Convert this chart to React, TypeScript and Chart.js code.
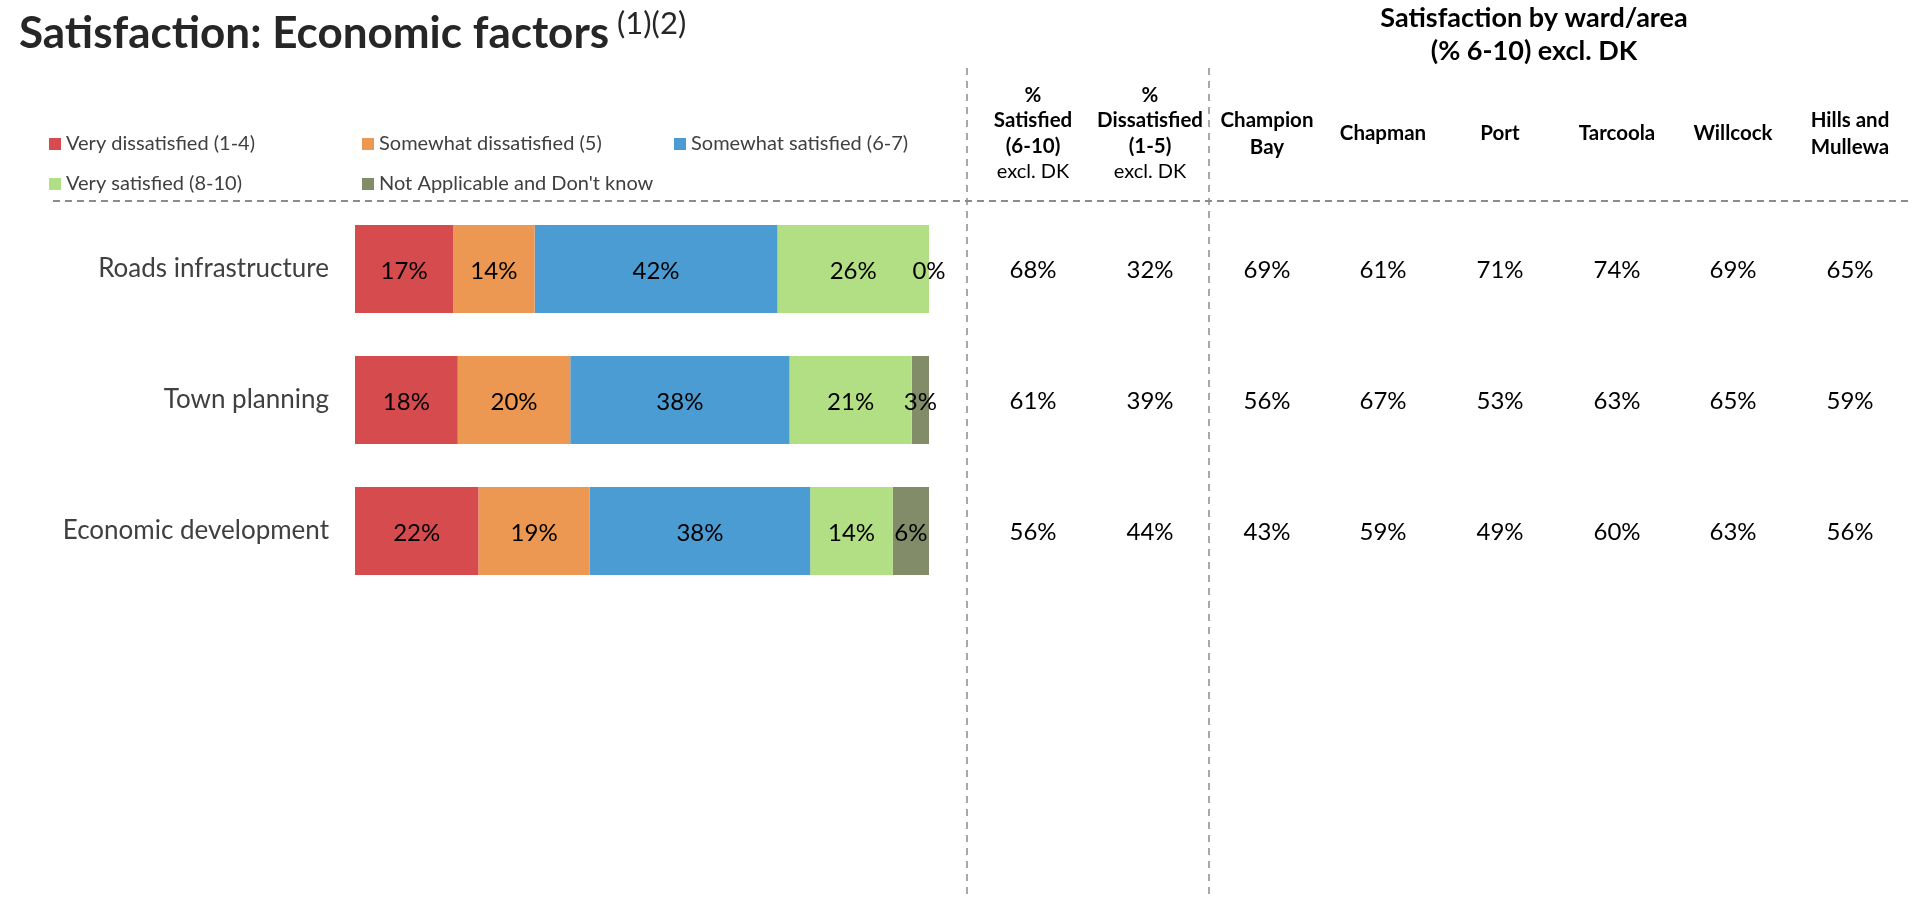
import React, { useEffect, useRef } from "react";
import { Chart, registerables } from "chart.js";

Chart.register(...registerables);

// ---------- DATA ----------
const categories = ["Roads infrastructure", "Town planning", "Economic development"];

const seriesNames = [
  "Very dissatisfied (1-4)",
  "Somewhat dissatisfied (5)",
  "Somewhat satisfied (6-7)",
  "Very satisfied (8-10)",
  "Not Applicable and Don't know",
];
const veryDissatisfied = [17.1, 17.9, 21.5];
const somewhatDissatisfied = [14.2, 19.6, 19.4];
const somewhatSatisfied = [42.3, 38.2, 38.4];
const verySatisfied = [26.4, 21.3, 14.4];
const notApplicable = [0, 3.0, 6.3];

const seriesColors = ["#D54B4E", "#EC9752", "#4C9CD4", "#B3DF84", "#838C68"];

// Summary table
const pctSatisfied = [68, 61, 56];
const pctDissatisfied = [32, 39, 44];
const championBay = [69, 56, 43];
const chapman = [61, 67, 59];
const port = [71, 53, 49];
const tarcoola = [74, 63, 60];
const willcock = [69, 65, 63];
const hillsMullewa = [65, 59, 56];

const tableColumns = [pctSatisfied, pctDissatisfied, championBay, chapman, port, tarcoola, willcock, hillsMullewa];
const tableHeaders = [
  ["%", "Satisfied", "(6-10)"],
  ["%", "Dissatisfied", "(1-5)"],
  ["Champion", "Bay"],
  ["Chapman"],
  ["Port"],
  ["Tarcoola"],
  ["Willcock"],
  ["Hills and", "Mullewa"],
];
const tableSubNotes = ["excl. DK", "excl. DK", "", "", "", "", "", ""];

const titleText = "Satisfaction: Economic factors";
const titleSup = "(1)(2)";
const wardTitle = ["Satisfaction by ward/area", "(% 6-10) excl. DK"];

// ---------- LAYOUT ----------
const W = 1917;
const H = 900;
const FONT = "Lato, 'Open Sans', sans-serif";
const colX = [1033, 1150, 1267, 1383, 1500, 1617, 1733, 1850];
const legendPos = [
  [49, 138],
  [362, 138],
  [674, 138],
  [49, 178],
  [362, 178],
];

const decorPlugin = {
  id: "decor",
  afterDraw(chart: any) {
    const ctx: CanvasRenderingContext2D = chart.ctx;
    const yScale = chart.scales.y;
    ctx.save();

    // Title
    ctx.fillStyle = "#262626";
    ctx.textAlign = "left";
    ctx.textBaseline = "alphabetic";
    ctx.font = `bold 44px ${FONT}`;
    ctx.fillText(titleText, 19, 48);
    const tw = ctx.measureText(titleText).width;
    ctx.font = `31px ${FONT}`;
    ctx.fillText(titleSup, 19 + tw + 8, 34);

    // Ward title
    ctx.fillStyle = "#000000";
    ctx.textAlign = "center";
    ctx.textBaseline = "middle";
    ctx.font = `bold 27px ${FONT}`;
    ctx.fillText(wardTitle[0], 1534, 18);
    ctx.fillText(wardTitle[1], 1534, 51);

    // Legend
    ctx.textAlign = "left";
    ctx.font = `20px ${FONT}`;
    chart.data.datasets.forEach((ds: any, i: number) => {
      const [lx, ly] = legendPos[i];
      ctx.fillStyle = ds.backgroundColor;
      ctx.fillRect(lx, ly, 12, 12);
      ctx.fillStyle = "#404040";
      ctx.fillText(ds.label, lx + 17, ly + 6);
    });

    // Column headers
    ctx.textAlign = "center";
    tableHeaders.forEach((lines, c) => {
      ctx.fillStyle = "#000000";
      ctx.font = `bold 20.5px ${FONT}`;
      let ys: number[];
      if (lines.length === 3) ys = [95, 120, 146];
      else if (lines.length === 2) ys = [120, 147];
      else ys = [133];
      lines.forEach((t, k) => ctx.fillText(t, colX[c], ys[k]));
      if (tableSubNotes[c]) {
        ctx.font = `20px ${FONT}`;
        ctx.fillText(tableSubNotes[c], colX[c], 172);
      }
    });

    // Category labels + table values
    categories.forEach((cat, i) => {
      const y = yScale.getPixelForValue(i);
      ctx.textAlign = "right";
      ctx.fillStyle = "#404040";
      ctx.font = `26px ${FONT}`;
      ctx.fillText(cat, 329, y);
      ctx.textAlign = "center";
      ctx.fillStyle = "#000000";
      ctx.font = `24px ${FONT}`;
      tableColumns.forEach((col, c) => {
        ctx.fillText(`${col[i]}%`, colX[c], y + 1);
      });
    });

    // Bar data labels
    ctx.fillStyle = "#000000";
    ctx.font = `24px ${FONT}`;
    ctx.textAlign = "center";
    chart.data.datasets.forEach((ds: any, di: number) => {
      const meta = chart.getDatasetMeta(di);
      meta.data.forEach((el: any, i: number) => {
        const cx = (el.x + el.base) / 2;
        ctx.fillText(`${Math.round(ds.data[i])}%`, cx, el.y + 2);
      });
    });

    // Dashed lines
    ctx.strokeStyle = "#8c8c8c";
    ctx.lineWidth = 2;
    ctx.setLineDash([7, 5]);
    ctx.beginPath();
    ctx.moveTo(53, 201);
    ctx.lineTo(1908, 201);
    ctx.stroke();
    ctx.lineWidth = 1.5;
    ctx.setLineDash([7, 6]);
    [967, 1209].forEach((x) => {
      ctx.beginPath();
      ctx.moveTo(x, 68);
      ctx.lineTo(x, H);
      ctx.stroke();
    });
    ctx.restore();
  },
};

export default function App() {
  const ref = useRef<HTMLCanvasElement | null>(null);
  useEffect(() => {
    if (!ref.current) return;
    const values = [veryDissatisfied, somewhatDissatisfied, somewhatSatisfied, verySatisfied, notApplicable];
    const chart = new Chart(ref.current, {
      type: "bar",
      data: {
        labels: categories,
        datasets: values.map((v, i) => ({
          label: seriesNames[i],
          data: v,
          backgroundColor: seriesColors[i],
          borderWidth: 0,
          barPercentage: 0.672,
          categoryPercentage: 1,
        })),
      },
      options: {
        indexAxis: "y",
        responsive: false,
        animation: false,
        devicePixelRatio: 1,
        layout: { padding: { left: 355, right: W - 929, top: 203.5, bottom: H - 596.5 } },
        scales: {
          x: { stacked: true, min: 0, max: 100, display: false },
          y: { stacked: true, display: false },
        },
        plugins: {
          legend: { display: false },
          tooltip: { enabled: false },
          title: { display: false },
        },
      } as any,
      plugins: [decorPlugin],
    });
    return () => chart.destroy();
  }, []);
  return (
    <div style={{ position: "fixed", left: 0, top: 0, width: W, height: H, background: "#fff", overflow: "hidden" }}>
      <canvas ref={ref} width={W} height={H} style={{ width: W, height: H, display: "block" }} />
    </div>
  );
}
